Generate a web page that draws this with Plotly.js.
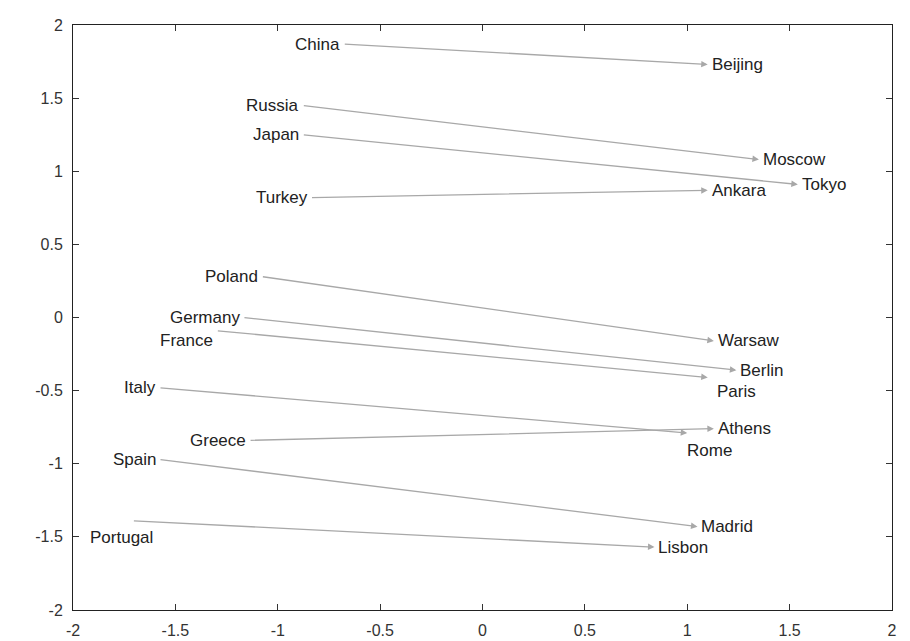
<!DOCTYPE html>
<html>
<head>
<meta charset="utf-8">
<script src="https://cdn.plot.ly/plotly-3.0.1.min.js"></script>
<style>html,body{margin:0;padding:0;background:#fff;}#chart{width:910px;height:641px;}</style>
</head>
<body>
<div id="chart"></div>
<script>
// Country -> capital projection (2D PCA of word vectors)
var countries = ["China","Russia","Japan","Turkey","Poland","Germany","France","Italy","Greece","Spain","Portugal"];
var countryX  = [-0.68, -0.88, -0.88, -0.84, -1.08, -1.17, -1.30, -1.58, -1.14, -1.58, -1.71];
var countryY  = [ 1.87,  1.45,  1.25,  0.82,  0.28,  0.00, -0.09, -0.48, -0.84, -0.97, -1.39];
var capitals  = ["Beijing","Moscow","Tokyo","Ankara","Warsaw","Berlin","Paris","Rome","Athens","Madrid","Lisbon"];
var capitalX  = [ 1.10,  1.35,  1.54,  1.10,  1.13,  1.24,  1.10,  1.00,  1.13,  1.05,  0.84];
var capitalY  = [ 1.73,  1.08,  0.91,  0.87, -0.16, -0.36, -0.41, -0.79, -0.76, -1.43, -1.57];
var tickVals  = [-2, -1.5, -1, -0.5, 0, 0.5, 1, 1.5, 2];
var tickText  = ["-2","-1.5","-1","-0.5","0","0.5","1","1.5","2"];

// label placement styles (pixel offsets relative to the point)
var labelStyle = {
  "France":   {xanchor: "right",  xshift: -1,  yshift: -10},
  "Portugal": {xanchor: "center", xshift: -11, yshift: -17},
  "Paris":    {xanchor: "left",   xshift: 7,   yshift: -14},
  "Rome":     {xanchor: "left",   xshift: -2,  yshift: -17}
};

var labelFont = {family: "Liberation Sans, Arial, sans-serif", size: 17, color: "#222"};

function label(name, x, y, isCountry) {
  var s = labelStyle[name] || {xanchor: isCountry ? "right" : "left", xshift: isCountry ? -1 : 2, yshift: 0};
  return {x: x, y: y, xref: "x", yref: "y", text: name, showarrow: false,
          xanchor: s.xanchor, yanchor: "middle", xshift: s.xshift, yshift: s.yshift,
          font: labelFont};
}

var annotations = [];
countries.forEach(function(c, i){
  annotations.push({x: capitalX[i], y: capitalY[i], ax: countryX[i], ay: countryY[i],
          xref: "x", yref: "y", axref: "x", ayref: "y", text: "",
          showarrow: true, arrowhead: 2, arrowsize: 1, arrowwidth: 1.3,
          arrowcolor: "#a8a8a8", standoff: 0, startstandoff: 0});
});
countries.forEach(function(c, i){ annotations.push(label(c, countryX[i], countryY[i], true)); });
capitals.forEach(function(c, i){ annotations.push(label(c, capitalX[i], capitalY[i], false)); });

var traces = [
  {x: countryX.concat(capitalX), y: countryY.concat(capitalY), mode: "markers", type: "scatter",
   marker: {size: 1, color: "rgba(0,0,0,0)"}, hoverinfo: "skip", showlegend: false}
];

var axisCommon = {
  range: [-2, 2], tickmode: "array", tickvals: tickVals, ticktext: tickText,
  ticks: "inside", ticklen: 6, tickwidth: 1, tickcolor: "#333",
  showline: true, linecolor: "#222", linewidth: 1, mirror: "ticks",
  showgrid: false, zeroline: false,
  tickfont: {family: "Liberation Sans, Arial, sans-serif", size: 16, color: "#333"}
};

var layout = {
  width: 910, height: 641,
  margin: {l: 73, r: 18, t: 25, b: 31},
  paper_bgcolor: "#ffffff", plot_bgcolor: "#ffffff",
  xaxis: Object.assign({}, axisCommon, {ticklabelstandoff: 6}),
  yaxis: Object.assign({}, axisCommon, {ticklabelstandoff: 6}),
  annotations: annotations,
  showlegend: false
};

Plotly.newPlot("chart", traces, layout, {displayModeBar: false, staticPlot: true});
</script>
</body>
</html>
